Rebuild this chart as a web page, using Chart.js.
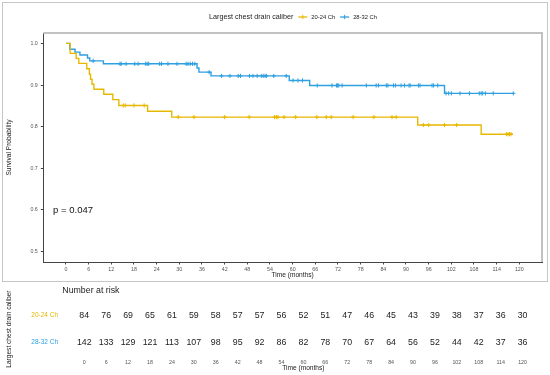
<!DOCTYPE html>
<html><head><meta charset="utf-8">
<script src="https://cdn.jsdelivr.net/npm/chart.js@4.4.0/dist/chart.umd.min.js"></script>
<style>
html,body{margin:0;padding:0;background:#fff;}
#wrap{position:relative;width:550px;height:375px;overflow:hidden;background:#fff;}
#frame{position:absolute;left:2px;top:2px;width:546px;height:280px;border:1.5px solid #c6c6c6;box-sizing:border-box;pointer-events:none;}
canvas{position:absolute;left:0;}
</style>
</head><body>
<div id="wrap">
  <canvas id="km" width="550" height="282" style="top:0"></canvas>
  <canvas id="risk" width="550" height="93" style="top:282px"></canvas>
  <div id="frame"></div>
</div>
<script>
// ---------- data ----------
const groupLabels = ['20-24 Ch', '28-32 Ch'];
const legendTitle = 'Largest chest drain caliber';
const pValueText = 'p = 0.047';

const orangeTime = [0, 1.1, 2.7, 3.4, 5.5, 6.2, 6.5, 6.9, 7.4, 10.0, 12.4, 14.0, 21.6, 28.0, 93.1, 109.9, 118.3];
const orangeSurv = [1.0, 0.976, 0.964, 0.952, 0.939, 0.926, 0.914, 0.902, 0.890, 0.878, 0.865, 0.851, 0.837, 0.823, 0.804, 0.782, 0.782];
const orangeCensor = [15.2, 15.7, 18.0, 20.7, 29.7, 33.9, 42.0, 48.5, 55.2, 55.7, 56.1, 57.7, 60.8, 66.4, 68.9, 70.2, 76.0, 81.5, 86.3, 87.4, 94.6, 96.0, 100.2, 103.4, 116.6, 117.0, 117.4, 117.8];

const blueTime = [0, 1.0, 2.4, 3.7, 5.7, 6.3, 9.9, 34.7, 35.2, 38.4, 59.1, 64.5, 100.2, 118.4];
const blueSurv = [1.0, 0.986, 0.979, 0.972, 0.965, 0.958, 0.951, 0.941, 0.931, 0.922, 0.911, 0.899, 0.880, 0.880];
const blueCensor = [7.2, 14.3, 14.6, 15.9, 18.2, 19.1, 21.1, 21.5, 21.9, 24.8, 25.3, 27.0, 29.4, 31.8, 32.3, 32.9, 33.5, 34.1, 37.9, 41.2, 43.4, 45.6, 46.2, 48.6, 49.5, 50.6, 51.7, 52.2, 52.7, 53.1, 55.0, 58.3, 60.1, 61.4, 62.6, 66.5, 70.4, 71.6, 71.9, 72.2, 73.1, 79.5, 82.1, 82.7, 84.8, 85.2, 86.7, 87.2, 88.7, 89.6, 90.8, 91.1, 93.3, 93.7, 96.9, 97.3, 98.4, 100.6, 101.3, 102.0, 104.3, 106.8, 109.4, 109.9, 110.3, 111.0, 113.1, 118.4];

const timeTicks = [0, 6, 12, 18, 24, 30, 36, 42, 48, 54, 60, 66, 72, 78, 84, 90, 96, 102, 108, 114, 120];
const survTicks = [0.5, 0.6, 0.7, 0.8, 0.9, 1.0];
const riskOrange = [84, 76, 69, 65, 61, 59, 58, 57, 57, 56, 52, 51, 47, 46, 45, 43, 39, 38, 37, 36, 30];
const riskBlue = [142, 133, 129, 121, 113, 107, 98, 95, 92, 86, 82, 78, 70, 67, 64, 56, 52, 44, 42, 37, 36];

// ---------- styles ----------
const ORANGE = '#E7B800';
const BLUE = '#2E9FDF';
const FONT = '"Liberation Sans", Arial, Helvetica, sans-serif';

function survAt(times, survs, t) {
  let v = survs[0];
  for (let i = 0; i < times.length; i++) { if (times[i] <= t) v = survs[i]; }
  return v;
}
const pts = (ts, ss) => ts.map((t, i) => ({x: t, y: ss[i]}));
const cens = (cs, ts, ss) => cs.map(t => ({x: t, y: survAt(ts, ss, t)}));

const kmDecor = {
  id: 'kmDecor',
  afterDraw(chart) {
    const {ctx, chartArea: a, scales} = chart;
    ctx.save();
    // panel border (top/right)
    ctx.strokeStyle = '#c2c2c2'; ctx.lineWidth = 2;
    ctx.beginPath(); ctx.moveTo(a.left, a.top); ctx.lineTo(a.right, a.top); ctx.lineTo(a.right, a.bottom); ctx.stroke();
    // p-value
    ctx.fillStyle = '#111'; ctx.font = '9.5px ' + FONT; ctx.textAlign = 'left'; ctx.textBaseline = 'middle';
    ctx.fillText(pValueText, scales.x.getPixelForValue(-3.4), scales.y.getPixelForValue(0.6));
    // legend
    const ly = 17;
    ctx.font = '7.2px ' + FONT; ctx.fillStyle = '#222';
    let x = 209;
    ctx.fillText(legendTitle, x, ly);
    x += ctx.measureText(legendTitle).width + 5;
    const cols = [ORANGE, BLUE];
    for (let i = 0; i < 2; i++) {
      ctx.strokeStyle = cols[i]; ctx.lineWidth = 1.3;
      ctx.beginPath(); ctx.moveTo(x, ly); ctx.lineTo(x + 9, ly); ctx.stroke();
      ctx.lineWidth = 1;
      ctx.beginPath(); ctx.moveTo(x + 4.5, ly - 2.2); ctx.lineTo(x + 4.5, ly + 2.2); ctx.stroke();
      x += 13;
      ctx.font = '5.8px ' + FONT; ctx.fillStyle = '#222';
      ctx.fillText(groupLabels[i], x, ly);
      x += ctx.measureText(groupLabels[i]).width + 5;
    }
    ctx.restore();
  }
};

new Chart(document.getElementById('km'), {
  type: 'line',
  data: {
    datasets: [
      {label: groupLabels[0], data: pts(orangeTime, orangeSurv), stepped: true, borderColor: ORANGE, borderWidth: 1.4, pointRadius: 0, fill: false},
      {label: groupLabels[1], data: pts(blueTime, blueSurv), stepped: true, borderColor: BLUE, borderWidth: 1.4, pointRadius: 0, fill: false},
      {label: 'c1', data: cens(orangeCensor, orangeTime, orangeSurv), showLine: false, pointStyle: 'cross', pointRadius: 2.1, borderColor: ORANGE, backgroundColor: ORANGE, pointBorderWidth: 1},
      {label: 'c2', data: cens(blueCensor, blueTime, blueSurv), showLine: false, pointStyle: 'cross', pointRadius: 2.1, borderColor: BLUE, backgroundColor: BLUE, pointBorderWidth: 1}
    ]
  },
  options: {
    responsive: false, animation: false, devicePixelRatio: 1,
    layout: {padding: {left: 3, top: 33, right: 8, bottom: 0}},
    plugins: {legend: {display: false}, tooltip: {enabled: false}},
    scales: {
      x: {
        type: 'linear', min: -6, max: 126,
        afterBuildTicks: s => { s.ticks = timeTicks.map(v => ({value: v})); },
        afterFit: s => { s.height = 20; },
        grid: {drawOnChartArea: false, drawTicks: true, tickLength: 2.5, color: '#444'},
        border: {display: true, color: '#444', width: 1},
        ticks: {font: {family: FONT, size: 5.3}, color: '#555', padding: 1.5, maxRotation: 0, autoSkip: false, callback: v => String(v)},
        title: {display: true, text: 'Time (months)', font: {family: FONT, size: 6.6}, color: '#222', padding: {top: 0, bottom: 2.5}}
      },
      y: {
        type: 'linear', min: 0.475, max: 1.025,
        afterBuildTicks: s => { s.ticks = survTicks.map(v => ({value: v})); },
        afterFit: s => { s.width = 40.3; },
        grid: {drawOnChartArea: false, drawTicks: true, tickLength: 2.5, color: '#444'},
        border: {display: true, color: '#444', width: 1},
        ticks: {font: {family: FONT, size: 5.3}, color: '#555', padding: 3, callback: v => v.toFixed(1)},
        title: {display: true, text: 'Survival Probability', font: {family: FONT, size: 6.6}, color: '#222', padding: {top: 2, bottom: 0}}
      }
    }
  },
  plugins: [kmDecor]
});

const riskText = {
  id: 'riskText',
  afterDatasetsDraw(chart) {
    const {ctx, chartArea: a} = chart;
    const vals = [riskOrange, riskBlue];
    ctx.save();
    ctx.font = '8.8px ' + FONT; ctx.fillStyle = '#222'; ctx.textAlign = 'center'; ctx.textBaseline = 'middle';
    for (let i = 0; i < 2; i++) {
      chart.getDatasetMeta(i).data.forEach((el, j) => ctx.fillText(String(vals[i][j]), el.x, el.y));
    }
    ctx.textAlign = 'left';
    ctx.fillText('Number at risk', a.left, 9);
    ctx.restore();
  }
};

new Chart(document.getElementById('risk'), {
  type: 'scatter',
  data: {
    datasets: [
      {label: groupLabels[0], data: timeTicks.map(t => ({x: t, y: 2})), pointRadius: 0},
      {label: groupLabels[1], data: timeTicks.map(t => ({x: t, y: 1})), pointRadius: 0}
    ]
  },
  options: {
    responsive: false, animation: false, devicePixelRatio: 1,
    layout: {padding: {left: 0, top: 20.1, right: 5.5, bottom: 0}},
    plugins: {legend: {display: false}, tooltip: {enabled: false}},
    scales: {
      x: {
        type: 'linear', min: -6, max: 126,
        afterBuildTicks: s => { s.ticks = timeTicks.map(v => ({value: v})); },
        afterFit: s => { s.height = 18.9; },
        grid: {display: false, drawTicks: false, tickLength: 0}, border: {display: false},
        ticks: {font: {family: FONT, size: 5.3}, color: '#555', padding: 3.2, maxRotation: 0, autoSkip: false, callback: v => String(v)},
        title: {display: true, text: 'Time (months)', font: {family: FONT, size: 6.6}, color: '#222', padding: {top: 0, bottom: 2.5}}
      },
      y: {
        type: 'linear', min: 0.5, max: 2.5,
        afterBuildTicks: s => { s.ticks = [{value: 1}, {value: 2}]; },
        afterFit: s => { s.width = 62.3; },
        grid: {display: false, drawTicks: false, tickLength: 0}, border: {display: false},
        ticks: {font: {family: FONT, size: 6.5}, color: c => (c.tick && c.tick.value === 2) ? ORANGE : BLUE, padding: 4.3,
                callback: v => v === 2 ? groupLabels[0] : groupLabels[1]},
        title: {display: true, text: legendTitle, font: {family: FONT, size: 6.6}, color: '#222', padding: {top: 5, bottom: 0}}
      }
    }
  },
  plugins: [riskText]
});
</script>
</body></html>
